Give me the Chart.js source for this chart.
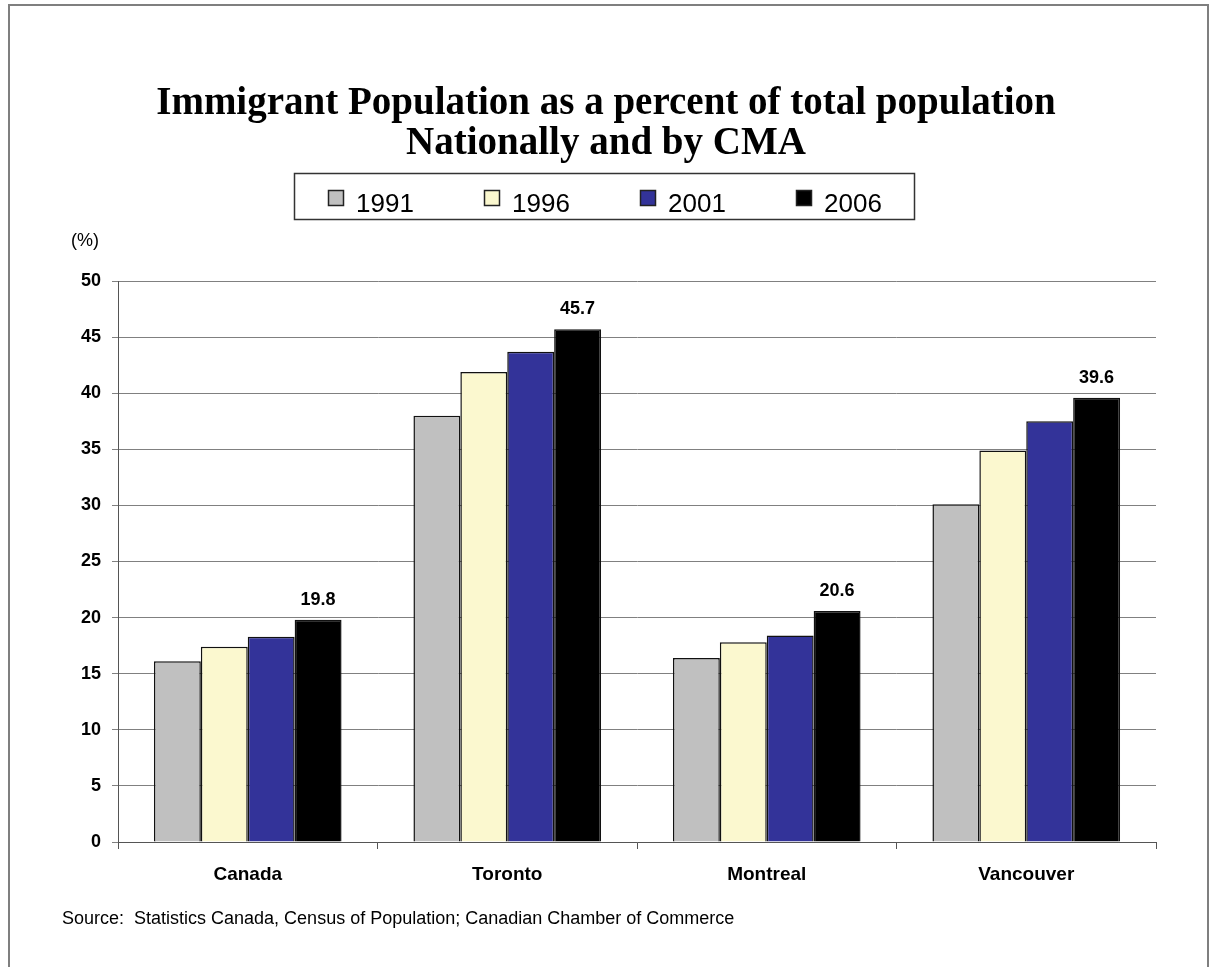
<!DOCTYPE html>
<html lang="en">
<head>
<meta charset="utf-8">
<title>Immigrant Population | Chart.js</title>
<script src="https://cdn.jsdelivr.net/npm/chart.js@4.4.1/dist/chart.umd.min.js"></script>
<style>
  html, body { margin: 0; padding: 0; background: #fff; }
  .wrapper { width: 1212px; height: 967px; }
</style>
</head>
<body>
<div class="wrapper"><canvas id="chart-0" width="1212" height="967"></canvas></div>
<script>
  // data
  const categories = ['Canada', 'Toronto', 'Montreal', 'Vancouver'];
  const years = ['1991', '1996', '2001', '2006'];
  const values1991 = [16.1, 38.0, 16.4, 30.1];
  const values1996 = [17.4, 41.9, 17.8, 34.9];
  const values2001 = [18.3, 43.7, 18.4, 37.5];
  const values2006 = [19.8, 45.7, 20.6, 39.6];
  const yMin = 0, yMax = 50, yStep = 5;

  const colors = ['#c0c0c0', '#fbf8cf', '#333399', '#000000'];
  const sans = "'Liberation Sans', Arial, sans-serif";

  // frame, legend box, unit label and source line
  const decorations = {
    id: 'decorations',
    afterDraw(chart) {
      const ctx = chart.ctx;
      ctx.save();

      ctx.strokeStyle = '#7f7f7f';
      ctx.lineWidth = 2;
      ctx.beginPath();
      ctx.moveTo(9, 967);
      ctx.lineTo(9, 5);
      ctx.lineTo(1208, 5);
      ctx.lineTo(1208, 967);
      ctx.stroke();

      // legend
      ctx.strokeStyle = '#333';
      ctx.lineWidth = 1.5;
      ctx.strokeRect(294.5, 173.5, 620, 46);
      ctx.font = '26px ' + sans;
      ctx.textBaseline = 'alphabetic';
      ctx.textAlign = 'left';
      chart.data.datasets.forEach(function(ds, i) {
        let x = 328 + i * 156;
        ctx.fillStyle = ds.backgroundColor;
        ctx.fillRect(x, 190, 16, 16);
        ctx.strokeStyle = '#222';
        ctx.lineWidth = 1.5;
        ctx.strokeRect(x + 0.5, 190.5, 15, 15);
        ctx.fillStyle = '#000';
        ctx.fillText(ds.label, x + 28, 212);
      });

      ctx.font = '18px ' + sans;
      ctx.fillText('(%)', 71, 246);

      ctx.font = '18px ' + sans;
      ctx.fillText('Source:  Statistics Canada, Census of Population; Canadian Chamber of Commerce', 62, 924);
      ctx.restore();
    },
    afterDatasetsDraw(chart) {
      const ctx = chart.ctx;
      const meta = chart.getDatasetMeta(3);
      ctx.save();
      ctx.font = 'bold 18px ' + sans;
      ctx.fillStyle = '#000';
      ctx.textAlign = 'center';
      ctx.textBaseline = 'alphabetic';
      meta.data.forEach(function(bar, i) {
        ctx.fillText(values2006[i].toFixed(1), bar.x, bar.y - 15);
      });
      ctx.restore();
    }
  };

  const seriesValues = [values1991, values1996, values2001, values2006];

  let chart = new Chart('chart-0', {
    type: 'bar',
    data: {
      labels: categories,
      datasets: years.map(function(year, i) {
        return {
          label: year,
          data: seriesValues[i],
          backgroundColor: colors[i],
          borderColor: '#111',
          borderWidth: 1.5,
          barPercentage: 1.0,
          categoryPercentage: 0.723
        };
      })
    },
    options: {
      responsive: false,
      animation: false,
      devicePixelRatio: 1,
      layout: { padding: { left: 0, right: 0, top: 0, bottom: 75 } },
      plugins: {
        legend: { display: false },
        tooltip: { enabled: false },
        title: {
          display: true,
          text: ['Immigrant Population as a percent of total population', 'Nationally and by CMA'],
          color: '#000',
          font: { family: "'Liberation Serif', 'Times New Roman', serif", weight: 'bold', size: 39, lineHeight: 1.026 },
          padding: { top: 84, bottom: 117 }
        }
      },
      scales: {
        x: {
          grid: { drawOnChartArea: false, drawTicks: true, tickLength: 7, offset: true, color: '#555' },
          border: { color: '#555', width: 1 },
          ticks: { color: '#000', font: { family: sans, weight: 'bold', size: 19 }, padding: 14 },
          afterFit(scale) { scale.height = 50; }
        },
        y: {
          min: yMin,
          max: yMax,
          ticks: { stepSize: yStep, color: '#000', font: { family: sans, weight: 'bold', size: 18 }, padding: 11 },
          grid: { color: '#808080', lineWidth: 1, tickLength: 6 },
          border: { color: '#555', width: 1 },
          afterFit(scale) { scale.width = 118; }
        },
        yRight: {
          position: 'right',
          grid: { display: false },
          border: { display: false },
          ticks: { display: false },
          afterFit(scale) { scale.width = 56; }
        }
      }
    },
    plugins: [decorations]
  });
</script>
</body>
</html>
